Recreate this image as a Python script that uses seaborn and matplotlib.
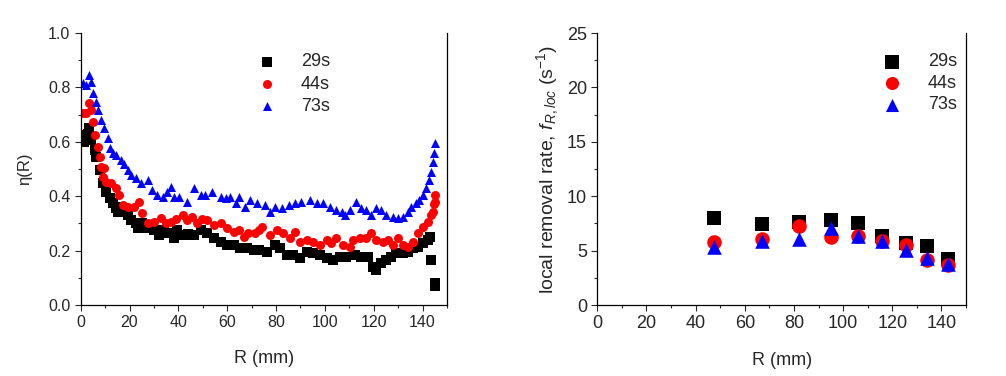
import numpy as np
import pandas as pd
import seaborn as sns
import matplotlib.pyplot as plt
from matplotlib.ticker import MultipleLocator

sns.set_style('ticks')
plt.rcParams['font.family'] = ['Liberation Sans', 'DejaVu Sans']
plt.rcParams['mathtext.fontset'] = 'custom'
plt.rcParams['mathtext.rm'] = 'Liberation Sans'
plt.rcParams['mathtext.it'] = 'Liberation Sans:italic'

labels = ['29s', '44s', '73s']
colors = ['black', 'red', 'blue']
markers = ['s', 'o', '^']

# left panel: eta(R) profiles
r_29 = [0.9, 1.2, 2.0, 2.8, 3.6, 4.3, 5.7, 6.4, 7.7, 9.0, 10.4, 11.8, 13.1, 14.5, 15.1,
        16.5, 19.3, 20.6, 22.6, 23.3, 25.3, 27.4, 30.1, 32.1, 34.2, 36.3, 38.2, 39.6,
        42.3, 44.0, 46.4, 49.1, 51.8, 54.5, 57.3, 59.9, 62.7, 65.4, 68.1, 70.8, 72.9,
        76.2, 79.6, 81.6, 84.4, 87.1, 89.7, 92.5, 95.2, 97.8, 100.7, 103.3, 106.1,
        108.8, 112.2, 114.9, 117.6, 119.7, 121.1, 123.1, 125.1, 127.2, 129.2, 131.9,
        134.0, 136.1, 138.1, 140.1, 142.2, 143.0, 143.6, 145.0, 145.2]
eta_29 = [0.625, 0.600, 0.620, 0.630, 0.650, 0.607, 0.570, 0.545, 0.496, 0.447, 0.417,
          0.392, 0.375, 0.356, 0.343, 0.362, 0.330, 0.313, 0.300, 0.282, 0.300, 0.282,
          0.276, 0.258, 0.276, 0.264, 0.245, 0.276, 0.257, 0.260, 0.257, 0.276, 0.264,
          0.245, 0.233, 0.221, 0.221, 0.208, 0.208, 0.202, 0.202, 0.196, 0.221, 0.208,
          0.184, 0.184, 0.172, 0.196, 0.190, 0.184, 0.172, 0.166, 0.178, 0.178, 0.184,
          0.178, 0.178, 0.141, 0.129, 0.153, 0.166, 0.178, 0.190, 0.190, 0.196, 0.208,
          0.214, 0.227, 0.239, 0.251, 0.165, 0.080, 0.070]

r_44 = [0.9, 2.2, 3.6, 4.3, 5.0, 5.7, 7.0, 7.7, 8.4, 9.0, 9.7, 10.4, 12.5, 14.5, 15.8,
        17.2, 19.3, 22.0, 24.0, 25.3, 27.4, 30.1, 32.7, 34.8, 36.9, 38.9, 41.7, 43.7,
        45.7, 47.8, 49.8, 51.8, 54.5, 57.3, 59.9, 62.7, 64.7, 66.7, 68.7, 71.5, 72.9,
        74.2, 77.6, 80.3, 83.0, 85.7, 87.7, 89.7, 92.5, 95.2, 97.8, 100.7, 102.7, 104.7,
        107.4, 110.1, 111.5, 114.3, 117.0, 119.0, 121.1, 123.8, 125.8, 127.9, 129.9,
        131.9, 134.0, 136.1, 138.1, 140.1, 142.2, 143.5, 144.2, 144.5, 144.9, 145.0]
eta_44 = [0.705, 0.705, 0.741, 0.717, 0.674, 0.625, 0.582, 0.545, 0.509, 0.472, 0.503,
          0.453, 0.447, 0.429, 0.404, 0.368, 0.362, 0.362, 0.380, 0.337, 0.300, 0.306,
          0.319, 0.300, 0.306, 0.318, 0.331, 0.312, 0.325, 0.300, 0.318, 0.312, 0.294,
          0.300, 0.282, 0.270, 0.276, 0.251, 0.264, 0.264, 0.276, 0.288, 0.257, 0.276,
          0.264, 0.245, 0.270, 0.233, 0.239, 0.233, 0.221, 0.239, 0.227, 0.245, 0.221,
          0.214, 0.239, 0.245, 0.245, 0.264, 0.239, 0.233, 0.239, 0.221, 0.245, 0.221,
          0.214, 0.233, 0.264, 0.288, 0.306, 0.331, 0.343, 0.370, 0.380, 0.404]

r_73 = [0.9, 2.2, 3.6, 4.3, 5.0, 6.4, 7.0, 8.4, 9.7, 11.0, 11.8, 13.1, 14.5, 16.5, 17.8,
        19.3, 20.6, 22.6, 24.6, 27.4, 29.4, 31.4, 33.5, 35.5, 36.9, 38.2, 40.3, 43.7,
        46.4, 49.1, 51.1, 53.8, 57.3, 59.3, 61.3, 63.4, 64.7, 67.4, 69.5, 72.1, 75.5,
        77.6, 79.6, 82.3, 85.1, 87.7, 90.4, 93.9, 96.6, 99.3, 102.0, 104.7, 106.8, 108.1,
        110.1, 112.9, 114.9, 117.0, 119.0, 121.1, 123.1, 125.1, 127.9, 129.9, 131.9,
        134.0, 135.4, 137.4, 138.7, 140.1, 141.4, 142.8, 143.5, 144.2, 144.8, 145.2]
eta_73 = [0.815, 0.809, 0.846, 0.821, 0.778, 0.748, 0.717, 0.680, 0.650, 0.613, 0.576,
          0.558, 0.551, 0.533, 0.520, 0.496, 0.478, 0.466, 0.447, 0.460, 0.423, 0.404,
          0.398, 0.417, 0.435, 0.398, 0.398, 0.380, 0.429, 0.404, 0.404, 0.416, 0.398,
          0.392, 0.398, 0.374, 0.398, 0.361, 0.386, 0.374, 0.368, 0.343, 0.361, 0.355,
          0.368, 0.374, 0.380, 0.386, 0.374, 0.374, 0.361, 0.349, 0.343, 0.331, 0.349,
          0.380, 0.355, 0.349, 0.331, 0.355, 0.349, 0.331, 0.325, 0.319, 0.325, 0.343,
          0.361, 0.374, 0.386, 0.404, 0.429, 0.459, 0.490, 0.527, 0.557, 0.594]

# right panel: local removal rate
r_loc = [47.5, 67, 82, 95, 106, 116, 125.5, 134, 142.5]
f_29 = [8.0, 7.4, 7.6, 7.8, 7.5, 6.3, 5.7, 5.4, 4.25]
f_44 = [5.8, 6.1, 7.25, 6.25, 6.35, 5.9, 5.55, 4.15, 3.7]
f_73 = [5.3, 5.9, 6.1, 7.1, 6.3, 5.9, 5.1, 4.35, 3.75]

fig = plt.figure(figsize=(10.06, 3.76), dpi=100)
ax1 = fig.add_axes([80.7/1006, 1-305/376, (447-80.7)/1006, 272/376])
ax2 = fig.add_axes([597.3/1006, 1-305/376, (966-597.3)/1006, 272/376])

left = [(r_29, eta_29), (r_44, eta_44), (r_73, eta_73)]
for (r, v), lab, c, m in zip(left, labels, colors, markers):
    sns.scatterplot(x=r, y=v, ax=ax1, color=c, marker=m, s=42, linewidth=0, label=lab)

right = [f_29, f_44, f_73]
for v, lab, c, m in zip(right, labels, colors, markers):
    sns.scatterplot(x=r_loc, y=v, ax=ax2, color=c, marker=m, s=110, linewidth=0, label=lab)

ax1.set_xlim(0, 150)
ax1.set_ylim(0, 1.0)
ax1.yaxis.set_major_locator(MultipleLocator(0.2))
ax1.yaxis.set_minor_locator(MultipleLocator(0.1))
ax1.yaxis.set_major_formatter(plt.FormatStrFormatter('%.1f'))
ax1.set_ylabel('η(R)', fontsize=12, labelpad=11)

ax2.set_xlim(0, 150)
ax2.set_ylim(0, 25)
ax2.yaxis.set_major_locator(MultipleLocator(5))
ax2.yaxis.set_minor_locator(MultipleLocator(2.5))
ax2.set_ylabel(r'local removal rate, $\mathit{f}_{\mathit{R,loc}}$ (s$^{-1}$)', fontsize=14)

for ax in (ax1, ax2):
    ax.xaxis.set_major_locator(MultipleLocator(20))
    ax.xaxis.set_minor_locator(MultipleLocator(10))
    ax.set_xlabel('R (mm)', fontsize=13, labelpad=14)
    ax.spines['top'].set_visible(False)
    for s in ('left', 'bottom', 'right'):
        ax.spines[s].set_linewidth(0.9)
        ax.spines[s].set_color('black')
    ax.tick_params(which='major', length=4, width=0.8, direction='out', labelsize=12)
    ax.tick_params(which='minor', length=2.5, width=0.8, direction='out')

ax1.tick_params(axis='both', labelsize=11.5)
ax2.tick_params(axis='both', labelsize=13)

ax1.legend(loc='upper right', bbox_to_anchor=(0.725, 0.985), frameon=False, fontsize=13,
           handletextpad=0.9, labelspacing=0.3, markerscale=1.0)
ax2.legend(loc='upper right', bbox_to_anchor=(1.02, 0.985), frameon=False, fontsize=13,
           handletextpad=1.0, labelspacing=0.25, markerscale=0.9)

fig.savefig('out.png', dpi=100)
